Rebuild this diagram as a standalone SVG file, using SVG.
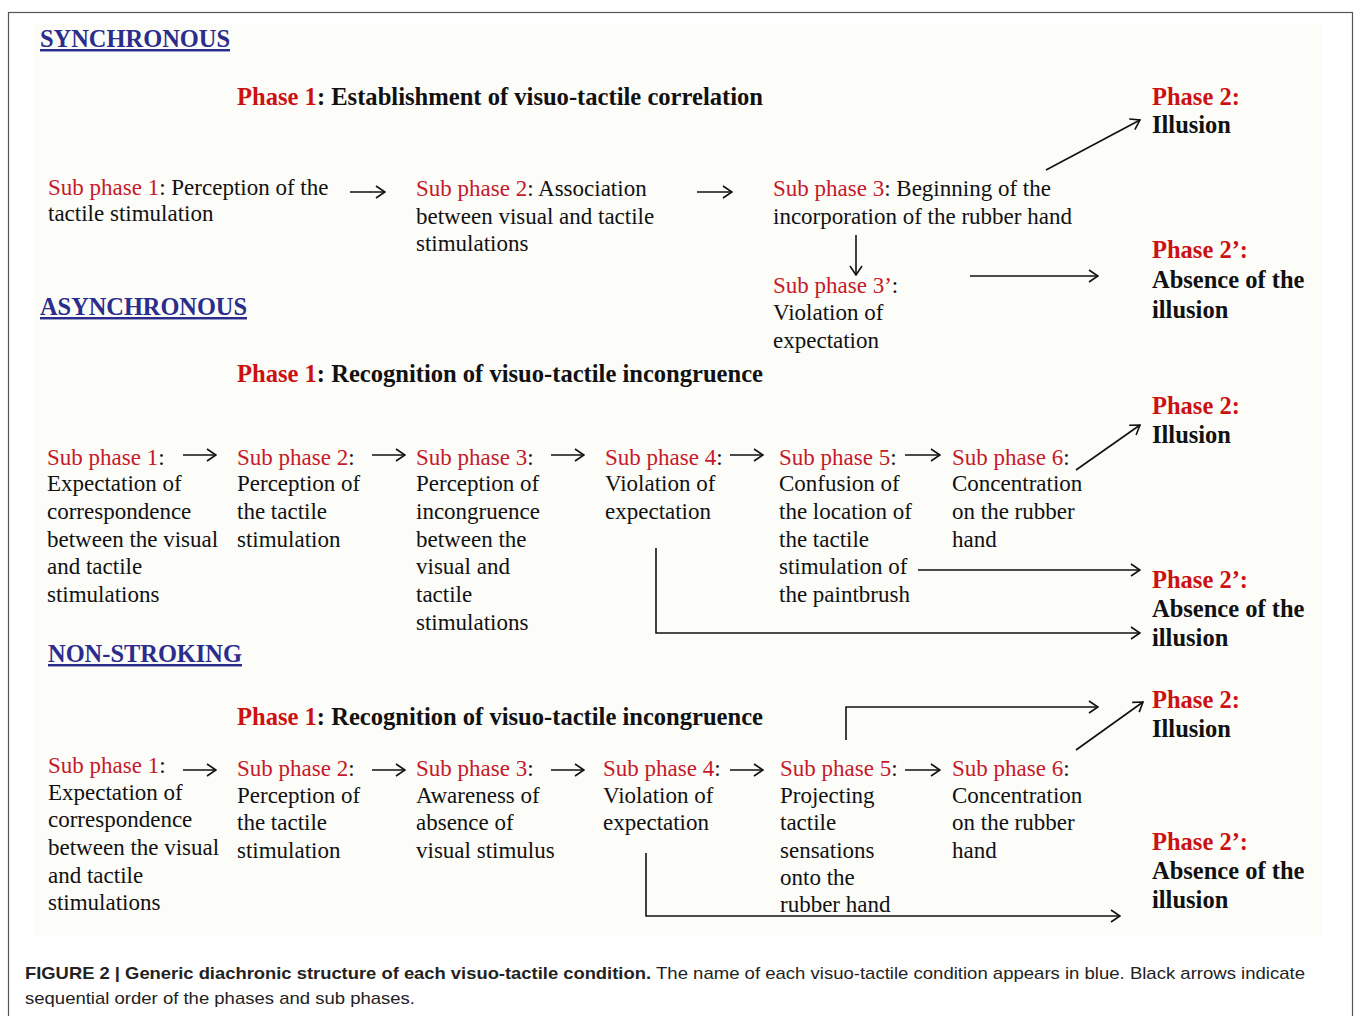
<svg xmlns="http://www.w3.org/2000/svg" width="1355" height="1016" viewBox="0 0 1355 1016">
<style>
.t{font-family:"Liberation Serif","Times New Roman",serif;font-size:23px;fill:#111}
.r{fill:#c41a2a}
.b{font-family:"Liberation Serif","Times New Roman",serif;font-size:24.5px;font-weight:bold;fill:#111}
.br{fill:#cc1111}
.hd{font-family:"Liberation Serif","Times New Roman",serif;font-size:24.5px;font-weight:bold;fill:#2b2d8c;text-decoration:underline}
.cap{font-family:"Liberation Sans",Arial,sans-serif;font-size:17px;fill:#222}
.ln{stroke:#111;stroke-width:1.6;fill:none}
</style>
<defs>
<marker id="ah" markerWidth="12" markerHeight="14" refX="11" refY="7" orient="auto" markerUnits="userSpaceOnUse">
<path d="M2,1 L11,7 L2,13" fill="none" stroke="#111" stroke-width="1.6"/>
</marker>
</defs>
<rect x="0" y="0" width="1355" height="1016" fill="#fff"/>
<rect x="8.5" y="12.5" width="1344" height="1010" fill="none" stroke="#555" stroke-width="1.2"/>
<rect x="34" y="24" width="1288" height="912" fill="#fcfcf9"/>

<!-- SYNCHRONOUS -->
<g id="hd-sync"><text class="hd" x="40" y="47" textLength="190" lengthAdjust="spacingAndGlyphs">SYNCHRONOUS</text></g>
<g id="s-phase1"><text class="b" x="237" y="105" textLength="526" lengthAdjust="spacingAndGlyphs"><tspan class="br">Phase 1</tspan>: Establishment of visuo-tactile correlation</text></g>
<g id="s-phase2"><text class="b" x="1152" y="105"><tspan class="br">Phase 2:</tspan></text><text class="b" x="1152" y="133">Illusion</text></g>
<g id="s-sp1"><text class="t" x="48" y="195"><tspan class="r">Sub phase 1</tspan>: Perception of the</text><text class="t" x="48" y="221">tactile stimulation</text></g>
<g id="s-sp2"><text class="t" x="416" y="196"><tspan class="r">Sub phase 2</tspan>: Association</text><text class="t" x="416" y="224">between visual and tactile</text><text class="t" x="416" y="251">stimulations</text></g>
<g id="s-sp3"><text class="t" x="773" y="196"><tspan class="r">Sub phase 3</tspan>: Beginning of the</text><text class="t" x="773" y="224">incorporation of the rubber hand</text></g>
<g id="s-sp3b"><text class="t" x="773" y="293"><tspan class="r">Sub phase 3’</tspan>:</text><text class="t" x="773" y="320">Violation of</text><text class="t" x="773" y="348">expectation</text></g>
<g id="s-phase2b"><text class="b" x="1152" y="258"><tspan class="br">Phase 2’:</tspan></text><text class="b" x="1152" y="288">Absence of the</text><text class="b" x="1152" y="318">illusion</text></g>

<!-- ASYNCHRONOUS -->
<g id="hd-async"><text class="hd" x="40" y="315" textLength="207" lengthAdjust="spacingAndGlyphs">ASYNCHRONOUS</text></g>
<g id="a-phase1"><text class="b" x="237" y="382" textLength="526" lengthAdjust="spacingAndGlyphs"><tspan class="br">Phase 1</tspan>: Recognition of visuo-tactile incongruence</text></g>
<g id="a-phase2"><text class="b" x="1152" y="414"><tspan class="br">Phase 2:</tspan></text><text class="b" x="1152" y="443">Illusion</text></g>
<g id="a-sp1"><text class="t" x="47" y="465"><tspan class="r">Sub phase 1</tspan>:</text><text class="t" x="47" y="491">Expectation of</text><text class="t" x="47" y="519">correspondence</text><text class="t" x="47" y="547">between the visual</text><text class="t" x="47" y="574">and tactile</text><text class="t" x="47" y="602">stimulations</text></g>
<g id="a-sp2"><text class="t" x="237" y="465"><tspan class="r">Sub phase 2</tspan>:</text><text class="t" x="237" y="491">Perception of</text><text class="t" x="237" y="519">the tactile</text><text class="t" x="237" y="547">stimulation</text></g>
<g id="a-sp3"><text class="t" x="416" y="465"><tspan class="r">Sub phase 3</tspan>:</text><text class="t" x="416" y="491">Perception of</text><text class="t" x="416" y="519">incongruence</text><text class="t" x="416" y="547">between the</text><text class="t" x="416" y="574">visual and</text><text class="t" x="416" y="602">tactile</text><text class="t" x="416" y="630">stimulations</text></g>
<g id="a-sp4"><text class="t" x="605" y="465"><tspan class="r">Sub phase 4</tspan>:</text><text class="t" x="605" y="491">Violation of</text><text class="t" x="605" y="519">expectation</text></g>
<g id="a-sp5"><text class="t" x="779" y="465"><tspan class="r">Sub phase 5</tspan>:</text><text class="t" x="779" y="491">Confusion of</text><text class="t" x="779" y="519">the location of</text><text class="t" x="779" y="547">the tactile</text><text class="t" x="779" y="574">stimulation of</text><text class="t" x="779" y="602">the paintbrush</text></g>
<g id="a-sp6"><text class="t" x="952" y="465"><tspan class="r">Sub phase 6</tspan>:</text><text class="t" x="952" y="491">Concentration</text><text class="t" x="952" y="519">on the rubber</text><text class="t" x="952" y="547">hand</text></g>
<g id="a-phase2b"><text class="b" x="1152" y="588"><tspan class="br">Phase 2’:</tspan></text><text class="b" x="1152" y="617">Absence of the</text><text class="b" x="1152" y="646">illusion</text></g>

<!-- NON-STROKING -->
<g id="hd-non"><text class="hd" x="48" y="662" textLength="194" lengthAdjust="spacingAndGlyphs">NON-STROKING</text></g>
<g id="n-phase1"><text class="b" x="237" y="725" textLength="526" lengthAdjust="spacingAndGlyphs"><tspan class="br">Phase 1</tspan>: Recognition of visuo-tactile incongruence</text></g>
<g id="n-phase2"><text class="b" x="1152" y="708"><tspan class="br">Phase 2:</tspan></text><text class="b" x="1152" y="737">Illusion</text></g>
<g id="n-sp1"><text class="t" x="48" y="773"><tspan class="r">Sub phase 1</tspan>:</text><text class="t" x="48" y="800">Expectation of</text><text class="t" x="48" y="827">correspondence</text><text class="t" x="48" y="855">between the visual</text><text class="t" x="48" y="883">and tactile</text><text class="t" x="48" y="910">stimulations</text></g>
<g id="n-sp2"><text class="t" x="237" y="776"><tspan class="r">Sub phase 2</tspan>:</text><text class="t" x="237" y="803">Perception of</text><text class="t" x="237" y="830">the tactile</text><text class="t" x="237" y="858">stimulation</text></g>
<g id="n-sp3"><text class="t" x="416" y="776"><tspan class="r">Sub phase 3</tspan>:</text><text class="t" x="416" y="803">Awareness of</text><text class="t" x="416" y="830">absence of</text><text class="t" x="416" y="858">visual stimulus</text></g>
<g id="n-sp4"><text class="t" x="603" y="776"><tspan class="r">Sub phase 4</tspan>:</text><text class="t" x="603" y="803">Violation of</text><text class="t" x="603" y="830">expectation</text></g>
<g id="n-sp5"><text class="t" x="780" y="776"><tspan class="r">Sub phase 5</tspan>:</text><text class="t" x="780" y="803">Projecting</text><text class="t" x="780" y="830">tactile</text><text class="t" x="780" y="858">sensations</text><text class="t" x="780" y="885">onto the</text><text class="t" x="780" y="912">rubber hand</text></g>
<g id="n-sp6"><text class="t" x="952" y="776"><tspan class="r">Sub phase 6</tspan>:</text><text class="t" x="952" y="803">Concentration</text><text class="t" x="952" y="830">on the rubber</text><text class="t" x="952" y="858">hand</text></g>
<g id="n-phase2b"><text class="b" x="1152" y="850"><tspan class="br">Phase 2’:</tspan></text><text class="b" x="1152" y="879">Absence of the</text><text class="b" x="1152" y="908">illusion</text></g>

<!-- connectors -->
<g id="connectors" class="ln" marker-end="url(#ah)">
<line x1="350" y1="192" x2="385" y2="192"/>
<line x1="697" y1="192" x2="732" y2="192"/>
<line x1="1046" y1="170" x2="1140" y2="120"/>
<line x1="856" y1="235" x2="856" y2="275"/>
<line x1="970" y1="276" x2="1098" y2="276"/>

<line x1="183" y1="455" x2="216" y2="455"/>
<line x1="372" y1="455" x2="405" y2="455"/>
<line x1="551" y1="455" x2="584" y2="455"/>
<line x1="730" y1="455" x2="763" y2="455"/>
<line x1="905" y1="455" x2="940" y2="455"/>
<line x1="1076" y1="470" x2="1140" y2="425"/>
<line x1="918" y1="570" x2="1140" y2="570"/>
<polyline points="656,548 656,633 1140,633"/>

<line x1="183" y1="770" x2="216" y2="770"/>
<line x1="372" y1="770" x2="405" y2="770"/>
<line x1="551" y1="770" x2="584" y2="770"/>
<line x1="730" y1="770" x2="763" y2="770"/>
<line x1="905" y1="770" x2="940" y2="770"/>
<polyline points="846,740 846,707 1098,707"/>
<line x1="1076" y1="750" x2="1143" y2="702"/>
<polyline points="646,853 646,916 1120,916"/>
</g>

<!-- caption -->
<g id="caption">
<text class="cap" x="25" y="979" font-weight="bold" textLength="626" lengthAdjust="spacingAndGlyphs">FIGURE 2 | Generic diachronic structure of each visuo-tactile condition.</text>
<text class="cap" x="656" y="979" textLength="649" lengthAdjust="spacingAndGlyphs">The name of each visuo-tactile condition appears in blue. Black arrows indicate</text>
<text class="cap" x="25" y="1004" textLength="390" lengthAdjust="spacingAndGlyphs">sequential order of the phases and sub phases.</text>
</g>
</svg>
